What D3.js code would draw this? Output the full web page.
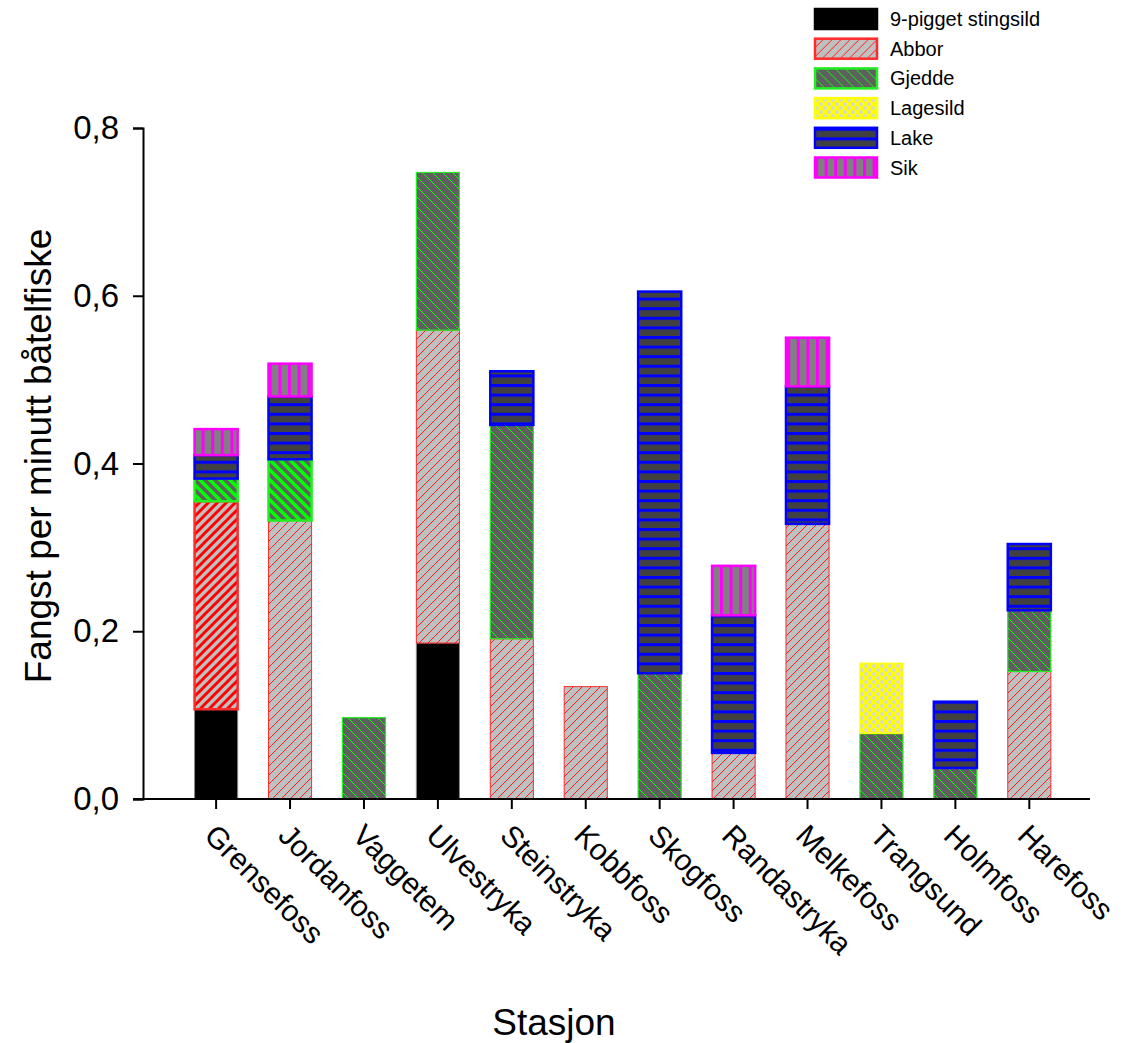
<!DOCTYPE html>
<html>
<head>
<meta charset="utf-8">
<script src="https://cdn.jsdelivr.net/npm/d3@7"></script>
<style>
  body { margin: 0; background: #fff; }
  svg { font-family: Arial, "Liberation Sans", sans-serif; }
</style>
</head>
<body>
<svg width="1123" height="1043"></svg>
<script>
// stations along the river
const stations = ['Grensefoss', 'Jordanfoss', 'Vaggetem', 'Ulvestryka', 'Steinstryka', 'Kobbfoss',
    'Skogfoss', 'Randastryka', 'Melkefoss', 'Trangsund', 'Holmfoss', 'Harefoss'];

// catch per minute, one array per species
const ninePigget = [0.107, 0, 0, 0.186, 0, 0, 0, 0, 0, 0, 0, 0];
const abbor = [0.248, 0.332, 0, 0.373, 0.191, 0.134, 0, 0.055, 0.328, 0, 0, 0.152];
const gjedde = [0.027, 0.073, 0.097, 0.188, 0.255, 0, 0.150, 0, 0, 0.078, 0.037, 0.073];
const lagesild = [0, 0, 0, 0, 0, 0, 0, 0, 0, 0.084, 0, 0];
const lake = [0.028, 0.075, 0, 0, 0.064, 0, 0.455, 0.164, 0.164, 0, 0.079, 0.079];
const sik = [0.031, 0.039, 0, 0, 0, 0, 0, 0.059, 0.058, 0, 0, 0];

const species = ['9-pigget stingsild', 'Abbor', 'Gjedde', 'Lagesild', 'Lake', 'Sik'];
const yTicks = [0, 0.2, 0.4, 0.6, 0.8];

let svg = d3.select('svg');

let table = stations.map(function (s, i) {
    return {
        station: s,
        '9-pigget stingsild': ninePigget[i],
        'Abbor': abbor[i],
        'Gjedde': gjedde[i],
        'Lagesild': lagesild[i],
        'Lake': lake[i],
        'Sik': sik[i]
    };
});

let stackedSeries = d3.stack().keys(species)(table);

let y = d3.scaleLinear().domain([0, 0.8]).range([799, 128]);
let x = d3.scaleBand().domain(stations).range([143, 1090])
    .paddingInner(0.39).paddingOuter(0.6).align(0.57);

// hatch patterns
let defs = svg.append('defs');

function hatch(id, bg, color, width, dir, size) {
    let p = defs.append('pattern').attr('id', id)
        .attr('patternUnits', 'userSpaceOnUse')
        .attr('width', size).attr('height', size);
    p.append('rect').attr('width', size).attr('height', size).attr('fill', bg);
    let lines = dir === '/'
        ? [[0, size, size, 0], [-1, 1, 1, -1], [size - 1, size + 1, size + 1, size - 1]]
        : [[0, 0, size, size], [-1, size - 1, 1, size + 1], [size - 1, -1, size + 1, 1]];
    lines.forEach(function (l) {
        p.append('line').attr('x1', l[0]).attr('y1', l[1]).attr('x2', l[2]).attr('y2', l[3])
            .attr('stroke', color).attr('stroke-width', width);
    });
}

hatch('pat-abbor', '#c0c0c0', '#ff2020', 1, '/', 9);
hatch('pat-abbor-bold', '#c0c0c0', '#ff0000', 3, '/', 9);
hatch('pat-gjedde', '#5f5f5f', '#00ff00', 1, '\\', 10);
hatch('pat-gjedde-bold', '#5f5f5f', '#00ff00', 3.5, '\\', 10);

let lakePat = defs.append('pattern').attr('id', 'pat-lake')
    .attr('patternUnits', 'userSpaceOnUse').attr('width', 10).attr('height', 9.6);
lakePat.append('rect').attr('width', 10).attr('height', 9.6).attr('fill', '#404040');
lakePat.append('rect').attr('width', 10).attr('height', 3).attr('fill', '#0000ff');

let sikPat = defs.append('pattern').attr('id', 'pat-sik')
    .attr('patternUnits', 'userSpaceOnUse').attr('width', 9.6).attr('height', 10);
sikPat.append('rect').attr('width', 9.6).attr('height', 10).attr('fill', '#808080');
sikPat.append('rect').attr('width', 3).attr('height', 10).attr('fill', '#ff00ff');

let lagPat = defs.append('pattern').attr('id', 'pat-lagesild')
    .attr('patternUnits', 'userSpaceOnUse').attr('width', 8).attr('height', 8);
lagPat.append('rect').attr('width', 8).attr('height', 8).attr('fill', '#ffff00');
lagPat.append('circle').attr('cx', 2).attr('cy', 2).attr('r', 1.9).attr('fill', '#d8d8d8');
lagPat.append('circle').attr('cx', 6).attr('cy', 6).attr('r', 1.9).attr('fill', '#d8d8d8');

let fills = {
    '9-pigget stingsild': '#000000',
    'Abbor': 'url(#pat-abbor)',
    'Gjedde': 'url(#pat-gjedde)',
    'Lagesild': 'url(#pat-lagesild)',
    'Lake': 'url(#pat-lake)',
    'Sik': 'url(#pat-sik)'
};
let strokes = {
    '9-pigget stingsild': '#8a8a8a',
    'Abbor': '#ff2a2a',
    'Gjedde': '#22ee22',
    'Lagesild': '#ffff00',
    'Lake': '#0000ff',
    'Sik': '#ff00ff'
};
let strokeWidths = {
    '9-pigget stingsild': 1, 'Abbor': 1, 'Gjedde': 1.2, 'Lagesild': 1, 'Lake': 2.5, 'Sik': 2.5
};
// segments drawn with the coarse hatch in the original
let boldSegments = ['Grensefoss|Abbor', 'Grensefoss|Gjedde', 'Jordanfoss|Gjedde'];

svg.append('g')
    .selectAll('g')
    .data(stackedSeries)
    .enter()
    .append('g')
    .each(function (series) {
        let key = series.key;
        d3.select(this).selectAll('rect')
            .data(series.filter(function (d) { return d[1] - d[0] > 0; }))
            .enter()
            .append('rect')
            .attr('x', function (d) { return x(d.data.station) + 1; })
            .attr('width', x.bandwidth() - 2)
            .attr('y', function (d) { return y(d[1]); })
            .attr('height', function (d) { return y(d[0]) - y(d[1]); })
            .style('fill', function (d) {
                let bold = boldSegments.indexOf(d.data.station + '|' + key) >= 0;
                return bold ? fills[key].replace(')', '-bold)') : fills[key];
            })
            .style('stroke', strokes[key])
            .style('stroke-width', function (d) {
                let bold = boldSegments.indexOf(d.data.station + '|' + key) >= 0;
                return bold ? 2.5 : strokeWidths[key];
            });
    });

// axes
let yAxis = svg.append('g')
    .attr('transform', 'translate(143,0)')
    .call(d3.axisLeft(y).tickValues(yTicks).tickSize(10).tickPadding(14)
        .tickFormat(function (d) { return d3.format('.1f')(d).replace('.', ','); }));
yAxis.select('.domain').attr('stroke', '#000').attr('stroke-width', 2);
yAxis.selectAll('.tick line').attr('stroke', '#000').attr('stroke-width', 2);
yAxis.selectAll('.tick text').attr('font-size', 33).attr('font-family', 'Arial, "Liberation Sans", sans-serif').attr('fill', '#000');

let xAxis = svg.append('g')
    .attr('transform', 'translate(0,799)')
    .call(d3.axisBottom(x).tickSize(10).tickSizeOuter(0).tickFormat(''));
xAxis.select('.domain').attr('d', 'M133,0H1090').attr('stroke', '#000').attr('stroke-width', 2);
xAxis.selectAll('.tick line').attr('stroke', '#000').attr('stroke-width', 2);

svg.append('g')
    .selectAll('text')
    .data(stations)
    .enter()
    .append('text')
    .attr('transform', function (d) {
        return 'translate(' + (x(d) + x.bandwidth() / 2 + 2) + ',822) rotate(45)';
    })
    .attr('dy', '0.72em')
    .attr('font-size', 30)
    .text(function (d) { return d; });

svg.append('text')
    .attr('transform', 'translate(51,456) rotate(-90)')
    .attr('text-anchor', 'middle')
    .attr('font-size', 37)
    .text('Fangst per minutt båtelfiske');

svg.append('text')
    .attr('x', 554)
    .attr('y', 1035)
    .attr('text-anchor', 'middle')
    .attr('font-size', 37)
    .text('Stasjon');

// legend
let legend = svg.append('g')
    .selectAll('g')
    .data(species)
    .enter()
    .append('g')
    .attr('transform', function (d, i) { return 'translate(815,' + (9 + i * 29.7) + ')'; });

legend.append('rect')
    .attr('width', 62)
    .attr('height', 20)
    .style('fill', function (d) { return fills[d]; })
    .style('stroke', function (d) { return strokes[d] === '#8a8a8a' ? '#000' : strokes[d]; })
    .style('stroke-width', 2.5);

legend.append('text')
    .attr('x', 75)
    .attr('y', 10)
    .attr('dy', '0.35em')
    .attr('font-size', 20)
    .text(function (d) { return d; });
</script>
</body>
</html>
